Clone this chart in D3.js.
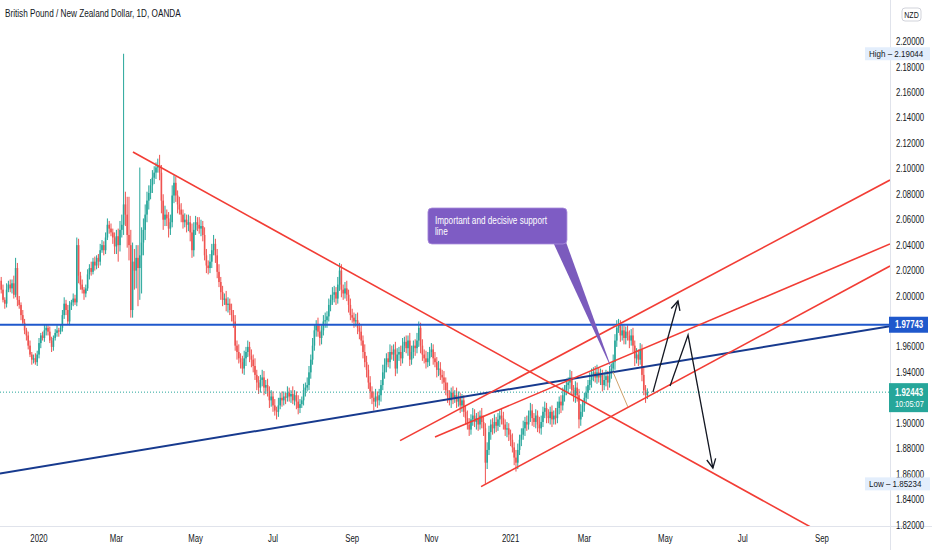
<!DOCTYPE html>
<html>
<head>
<meta charset="utf-8">
<script src="https://cdn.jsdelivr.net/npm/d3@7"></script>
<style>
  body { margin: 0; background: #fff; }
  svg { display: block; font-family: "Liberation Sans", Arial, sans-serif; }
</style>
</head>
<body>
<div id="content"></div>
<script>
// ---- data: daily closes per month (GBP/NZD, OANDA) ----
var firstDay = '2019-12-03';
var firstOpen = 2.012;
var closeDec19 = [2.005,1.997,1.994,2.005,2.009,2.006,2.010,2.001,2.022,1.997,1.993,1.985,1.979,1.973,1.969,1.961,1.954,1.950,1.951,1.948,1.954];
var closeJan20 = [1.963,1.969,1.967,1.973,1.975,1.972,1.965,1.960,1.967,1.971,1.973,1.972,1.975,1.985,1.994,1.989,1.980,1.993,1.995,1.998,1.995,2.040,2.016];
var closeFeb20 = [2.009,2.005,2.002,2.006,2.017,2.022,2.019,2.027,2.024,2.030,2.027,2.036,2.040,2.036,2.046,2.056,2.053,2.050,2.046,2.039];
var closeMar20 = [2.047,2.040,2.052,2.056,2.072,2.064,2.048,2.040,1.989,2.027,2.020,2.030,2.022,2.032,2.042,2.052,2.064,2.075,2.081,2.087,2.093,2.097];
var closeApr20 = [2.101,2.103,2.097,2.075,2.060,2.064,2.061,2.053,2.058,2.079,2.089,2.079,2.072,2.068,2.064,2.058,2.060,2.056,2.058,2.050,2.036,2.052];
var closeMay20 = [2.058,2.056,2.053,2.055,2.048,2.032,2.024,2.022,2.027,2.036,2.041,2.032,2.019,2.011,2.003,1.997,1.998,1.993,1.994,1.989,1.985];
var closeJun20 = [1.980,1.961,1.956,1.951,1.948,1.943,1.951,1.956,1.960,1.953,1.950,1.945,1.938,1.932,1.928,1.934,1.936,1.928,1.930,1.925,1.918,1.921];
var closeJul20 = [1.914,1.910,1.909,1.914,1.920,1.918,1.921,1.920,1.924,1.921,1.923,1.918,1.922,1.917,1.912,1.915,1.918,1.926,1.928,1.930,1.940,1.950,1.961];
var closeAug20 = [1.973,1.977,1.972,1.967,1.973,1.980,1.981,1.984,1.993,1.997,2.001,2.003,1.998,2.009,2.020,2.005,2.002,2.006,2.001,1.993,1.985];
var closeSep20 = [1.983,1.980,1.981,1.975,1.972,1.965,1.956,1.948,1.942,1.932,1.925,1.920,1.917,1.921,1.918,1.922,1.930,1.940,1.946,1.951,1.948,1.956];
var closeOct20 = [1.954,1.958,1.943,1.954,1.956,1.951,1.961,1.964,1.959,1.965,1.950,1.956,1.961,1.959,1.965,1.975,1.961,1.954,1.951,1.948,1.951,1.956];
var closeNov20 = [1.958,1.951,1.948,1.942,1.943,1.938,1.936,1.932,1.926,1.921,1.918,1.924,1.920,1.922,1.917,1.920,1.914,1.918,1.909,1.904,1.899];
var closeDec20 = [1.895,1.903,1.906,1.901,1.904,1.899,1.906,1.901,1.896,1.869,1.879,1.893,1.899,1.896,1.901,1.898,1.903,1.906,1.904,1.899,1.895,1.896,1.891];
var closeJan21 = [1.887,1.881,1.873,1.869,1.879,1.887,1.891,1.896,1.901,1.899,1.906,1.910,1.904,1.901,1.906,1.899,1.896,1.901,1.909,1.912,1.906];
var closeFeb21 = [1.904,1.909,1.903,1.906,1.904,1.912,1.917,1.914,1.922,1.926,1.930,1.932,1.936,1.926,1.922,1.928,1.922,1.903,1.909,1.914];
var closeMar21 = [1.920,1.924,1.930,1.934,1.938,1.940,1.936,1.940,1.936,1.938,1.930,1.934,1.937,1.932,1.940,1.943,1.948,1.965,1.975,1.977,1.969,1.973,1.967];
var closeApr21 = [1.972,1.969,1.965,1.969,1.961,1.951,1.954,1.950,1.958,1.938,1.926,1.922,1.92443];

// upper / lower wicks, in thousandths, same months
var upDec19 = [3,4,2,5,3,4,3,6,8,4,3,2,4,3,2,3,4,2,3,4,3];
var dnDec19 = [3,2,4,3,2,3,4,3,2,5,3,4,2,3,4,3,2,4,3,2,3];
var upJan20 = [4,2,3,5,3,2,4,3,2,3,4,2,3,4,5,3,4,3,2,4,3,6,5];
var dnJan20 = [3,4,2,3,4,3,2,4,3,2,3,4,2,3,3,4,2,3,4,3,2,3,6];
var upFeb20 = [3,4,2,3,4,3,5,3,4,2,3,5,4,3,4,5,3,4,3,4];
var dnFeb20 = [4,3,5,3,2,4,3,2,4,3,5,3,2,4,3,2,4,3,5,6];
var upMar20 = [5,6,7,8,118.44,10,14,30,12,15,10,10,10,69,12,9,8,7,6,5,6,5];
var dnMar20 = [6,13,5,6,8,9,10,12,6,6,15,14,30,25,30,10,8,6,7,5,6,5];
var upApr20 = [4,5,8,6,5,7,4,5,6,8,6,5,4,6,5,4,5,4,6,5,7,6];
var dnApr20 = [5,4,6,10,8,5,6,7,5,4,6,5,7,4,6,5,4,6,5,7,6,5];
var upMay20 = [5,4,6,5,4,6,5,4,6,5,7,4,5,6,4,5,4,6,5,4,5];
var dnMay20 = [4,5,4,6,5,4,6,5,4,5,4,6,5,4,6,5,4,5,6,4,5];
var upJun20 = [4,5,4,6,4,5,6,4,5,4,5,4,6,4,5,4,6,5,4,5,4,5];
var dnJun20 = [5,4,6,4,5,4,5,6,4,5,6,5,4,6,5,4,5,6,5,4,6,5];
var upJul20 = [4,5,3,6,4,5,4,3,5,4,3,6,4,3,5,4,3,5,4,6,5,4,6];
var dnJul20 = [5,4,6,4,3,5,4,5,3,4,5,3,4,6,5,4,3,4,5,3,4,5,4];
var upAug20 = [5,4,6,5,4,5,6,4,5,4,6,5,4,6,6,5,4,5,6,4,5];
var dnAug20 = [4,5,4,6,5,4,5,6,4,5,4,6,5,4,5,6,5,4,5,6,4];
var upSep20 = [5,4,5,6,4,5,4,6,5,4,5,4,5,6,4,5,4,6,5,4,5,6];
var dnSep20 = [4,5,4,5,6,4,5,4,6,5,6,5,7,4,6,4,5,4,5,6,4,5];
var upOct20 = [5,4,6,5,4,5,6,4,5,4,6,5,4,5,6,5,4,5,4,6,5,4];
var dnOct20 = [4,5,6,4,5,6,4,5,4,6,5,4,5,6,4,5,6,5,4,5,4,6];
var upNov20 = [5,4,5,4,6,5,4,5,4,6,5,4,5,4,6,5,4,5,4,5,6];
var dnNov20 = [4,5,4,6,5,4,5,6,4,5,4,6,5,4,5,4,6,5,4,5,4];
var upDec20 = [5,4,6,5,4,5,4,6,5,4,6,5,4,5,6,4,5,4,6,5,4,5,4];
var dnDec20 = [5,4,5,4,6,5,4,5,6,16.66,5,4,6,5,4,5,4,6,5,4,5,6,5];
var upJan21 = [4,5,4,6,5,4,5,6,4,5,4,6,5,4,5,4,6,5,4,5,4];
var dnJan21 = [5,4,6,7,5,4,5,4,6,5,4,5,6,4,5,6,4,5,4,5,6];
var upFeb21 = [5,4,5,4,6,5,4,5,6,4,5,4,6,5,4,5,4,5,6,4];
var dnFeb21 = [4,5,6,4,5,4,5,6,4,5,4,6,5,4,5,6,5,7,5,4];
var upMar21 = [4,5,4,6,5,4,5,6,4,5,4,6,5,4,5,4,6,5,6,5,4,5,4];
var dnMar21 = [5,4,5,4,6,5,4,5,4,6,5,4,5,6,4,5,4,6,5,4,5,4,5];
var upApr21 = [4,5,4,5,6,4,5,4,5,4,6,4,3];
var dnApr21 = [5,4,6,4,5,6,4,5,4,5,4,6,3];

// axis labels
var timeTickDates = ['2020-01-01','2020-03-01','2020-05-01','2020-07-01','2020-09-01','2020-11-01','2021-01-01','2021-03-01','2021-05-01','2021-07-01','2021-09-01'];
var timeTickLabels = ['2020','Mar','May','Jul','Sep','Nov','2021','Mar','May','Jul','Sep'];
var priceTicks = [1.82,1.84,1.86,1.88,1.90,1.92,1.94,1.96,1.98,2.00,2.02,2.04,2.06,2.08,2.10,2.12,2.14,2.16,2.18,2.20];
var highValue = 2.19044, lowValue = 1.85234, levelValue = 1.97743, lastValue = 1.92443;
var countdown = '10:05:07';
var currency = 'NZD';
var title = 'British Pound / New Zealand Dollar, 1D, OANDA';
var calloutText = ['Important and decisive support', 'line'];

// drawings: [bar index, price]
var trendDown = [[73.2, 2.1132], [481.0, 1.7939]];
var navyLine = [[-0.7, 1.8605], [493.8, 1.9763]];
var channelTop = [[221.6, 1.8863], [493.8, 2.0912]];
var channelMid = [[241.0, 1.8892], [493.8, 2.0409]];
var channelLow = [[266.6, 1.8502], [493.8, 2.0236]];
var tanLine = [[339.9, 1.9403], [348.2, 1.9127]];
var arrowUp = [[362.1, 1.9245], [376.0, 1.9961]];
var arrowZig = [[371.6, 1.9292], [381.6, 1.9693], [395.4, 1.8648]];
var calloutAnchor = [237.1, 2.0692];
var calloutTip = [339.9, 1.9403];

// ---- build ----
var closes = [].concat(closeDec19, closeJan20, closeFeb20, closeMar20, closeApr20, closeMay20, closeJun20,
  closeJul20, closeAug20, closeSep20, closeOct20, closeNov20, closeDec20, closeJan21, closeFeb21, closeMar21, closeApr21);
var wickUp = [].concat(upDec19, upJan20, upFeb20, upMar20, upApr20, upMay20, upJun20,
  upJul20, upAug20, upSep20, upOct20, upNov20, upDec20, upJan21, upFeb21, upMar21, upApr21);
var wickDown = [].concat(dnDec19, dnJan20, dnFeb20, dnMar20, dnApr20, dnMay20, dnJun20,
  dnJul20, dnAug20, dnSep20, dnOct20, dnNov20, dnDec20, dnJan21, dnFeb21, dnMar21, dnApr21);

var bars = closes.map(function(c, k){
  var o = k ? closes[k-1] : firstOpen;
  return { k: k, o: o, c: c,
    h: Math.max(o, c) + wickUp[k] / 1000,
    l: Math.min(o, c) - wickDown[k] / 1000 };
});

// trading days (weekdays), also past the last bar for future labels
var parse = d3.timeParse('%Y-%m-%d');
var days = [];
for (var d = parse(firstDay); days.length < 520; d = d3.timeDay.offset(d, 1)) {
  if (d.getDay() !== 0 && d.getDay() !== 6) days.push(d);
}

var W = 932, H = 550, plotW = 890, plotH = 526;
var upColor = '#26a69a', downColor = '#ef5350', red = '#f23d35';
var levelColor = '#1f58cc', textColor = '#131722';

var xs = d3.scaleLinear().domain([-0.67, 493.8]).range([0, plotW]);
var ys = d3.scaleLinear().domain([1.82, 2.20]).range([525, 41.6]);

var svg = d3.select('#content').append('svg')
  .attr('width', W).attr('height', H);

var defs = svg.append('defs');
defs.append('clipPath').attr('id', 'plot')
  .append('rect').attr('width', plotW).attr('height', plotH);
defs.append('marker')
  .attr('id', 'arrow')
  .attr('markerUnits', 'userSpaceOnUse')
  .attr('markerWidth', 14).attr('markerHeight', 14)
  .attr('viewBox', '-11 -7 14 14')
  .attr('refX', 0).attr('refY', 0)
  .attr('orient', 'auto')
  .append('path')
  .attr('d', 'M-9,-4.5 L0,0 L-9,4.5')
  .attr('fill', 'none').attr('stroke', textColor).attr('stroke-width', 1.3);

var plot = svg.append('g').attr('clip-path', 'url(#plot)');

// candles
var cg = plot.append('g');
cg.selectAll('line.wick').data(bars).enter().append('line')
  .attr('class', 'wick')
  .attr('x1', function(b){ return xs(b.k); })
  .attr('x2', function(b){ return xs(b.k); })
  .attr('y1', function(b){ return ys(b.h); })
  .attr('y2', function(b){ return ys(b.l); })
  .attr('stroke', function(b){ return b.c >= b.o ? upColor : downColor; })
  .attr('stroke-width', 1);
cg.selectAll('rect.body').data(bars).enter().append('rect')
  .attr('class', 'body')
  .attr('x', function(b){ return xs(b.k) - 0.8; })
  .attr('width', 1.6)
  .attr('y', function(b){ return ys(Math.max(b.o, b.c)); })
  .attr('height', function(b){ return Math.max(1, Math.abs(ys(b.o) - ys(b.c))); })
  .attr('fill', function(b){ return b.c >= b.o ? upColor : downColor; });

// last price dotted line
plot.append('line')
  .attr('x1', 0).attr('x2', plotW)
  .attr('y1', ys(lastValue)).attr('y2', ys(lastValue))
  .attr('stroke', upColor).attr('stroke-width', 1)
  .attr('stroke-dasharray', '1,2');

var line = d3.line()
  .x(function(p){ return xs(p[0]); })
  .y(function(p){ return ys(p[1]); });

function drawLine(pts, color, w){
  return plot.append('path')
    .attr('d', line(pts))
    .attr('fill', 'none')
    .attr('stroke', color)
    .attr('stroke-width', w);
}

drawLine(navyLine, '#173a8e', 2);
plot.append('line')
  .attr('x1', 0).attr('x2', plotW)
  .attr('y1', ys(levelValue)).attr('y2', ys(levelValue))
  .attr('stroke', levelColor).attr('stroke-width', 2);
drawLine(trendDown, red, 1.6);
drawLine(channelTop, red, 1.6);
drawLine(channelMid, red, 1.6);
drawLine(channelLow, red, 1.6);
drawLine(tanLine, '#cfa36c', 1);

// callout
var bx = xs(calloutAnchor[0]), by = ys(calloutAnchor[1]);
var bw = 139, bh = 36;
plot.append('path')
  .attr('d', 'M' + (bx + bw - 14) + ',' + (by + bh - 2) + 'L' + (bx + bw - 1) + ',' + (by + bh - 2) +
    'L' + xs(calloutTip[0]) + ',' + ys(calloutTip[1]) + 'Z')
  .attr('fill', '#7b5bbd');
plot.append('rect')
  .attr('x', bx).attr('y', by).attr('width', bw).attr('height', bh)
  .attr('rx', 4)
  .attr('fill', '#7e5cc4').attr('stroke', '#a98bdc').attr('stroke-width', 0.8);
plot.append('g').selectAll('text').data(calloutText).enter().append('text')
  .attr('x', bx + 7)
  .attr('y', function(t, i){ return by + 16 + i * 11; })
  .attr('fill', '#fff')
  .attr('font-size', 10.5)
  .text(function(t){ return t; });

// arrows
drawLine(arrowUp, textColor, 1.3).attr('marker-end', 'url(#arrow)');
drawLine(arrowZig, textColor, 1.3).attr('marker-end', 'url(#arrow)');

// ---- axes ----
svg.append('line')
  .attr('x1', 0).attr('x2', W).attr('y1', plotH + 0.5).attr('y2', plotH + 0.5)
  .attr('stroke', '#e0e3eb');
svg.append('line')
  .attr('x1', plotW + 0.5).attr('x2', plotW + 0.5).attr('y1', 0).attr('y2', H)
  .attr('stroke', '#e0e3eb');

svg.append('g').selectAll('text').data(timeTickDates).enter().append('text')
  .attr('x', function(s){ return xs(d3.bisectLeft(days, parse(s))); })
  .attr('y', 541.5)
  .attr('text-anchor', 'middle')
  .attr('font-size', 10)
  .attr('fill', textColor)
  .text(function(s, i){ return timeTickLabels[i]; });

// price ticks, hidden where a price label sits
var labelYs = [ys(levelValue), ys(lastValue) + 5];
svg.append('g').selectAll('text')
  .data(priceTicks.filter(function(v){
    return labelYs.every(function(y){ return Math.abs(ys(v) - y) > 12; });
  }))
  .enter().append('text')
  .attr('x', 896)
  .attr('y', function(v){ return ys(v) + 3.5; })
  .attr('font-size', 10)
  .attr('fill', textColor)
  .text(function(v){ return v.toFixed(5); });

// currency box
svg.append('rect')
  .attr('x', 902).attr('y', 8).attr('width', 19).attr('height', 13).attr('rx', 3)
  .attr('fill', '#fff').attr('stroke', '#c5c8d0').attr('stroke-width', 0.8);
svg.append('text')
  .attr('x', 911.5).attr('y', 17.5).attr('text-anchor', 'middle')
  .attr('font-size', 9).attr('fill', textColor)
  .text(currency);

// high / low labels
function infoLabel(name, v){
  var y = ys(v);
  svg.append('rect')
    .attr('x', 865).attr('y', y - 6.5).attr('width', 65).attr('height', 13)
    .attr('fill', '#e3eefc');
  svg.append('text')
    .attr('class', 'info')
    .attr('x', 869).attr('y', y + 3.5)
    .attr('font-size', 9.2).attr('fill', textColor)
    .text(name + ' \u2013 ' + v.toFixed(5));
}
infoLabel('High', highValue);
infoLabel('Low', lowValue);

// level label
svg.append('rect')
  .attr('x', 889).attr('y', ys(levelValue) - 8).attr('width', 39).attr('height', 16)
  .attr('fill', levelColor);
svg.append('text')
  .attr('x', 895).attr('y', ys(levelValue) + 3.5)
  .attr('font-size', 10).attr('font-weight', 'bold').attr('fill', '#fff')
  .text(levelValue.toFixed(5));

// last price label
var ly = ys(lastValue);
svg.append('rect')
  .attr('x', 889).attr('y', ly - 9).attr('width', 39).attr('height', 29)
  .attr('fill', upColor);
svg.append('text')
  .attr('x', 895).attr('y', ly + 3.5)
  .attr('font-size', 10).attr('font-weight', 'bold').attr('fill', '#fff')
  .text(lastValue.toFixed(5));
svg.append('text')
  .attr('x', 895).attr('y', ly + 15)
  .attr('font-size', 9.5).attr('fill', '#fff')
  .text(countdown);

// title
svg.append('text')
  .attr('x', 5).attr('y', 17)
  .attr('font-size', 10.5).attr('fill', textColor)
  .text(title);

// the screenshot font is a narrow face: squeeze every text horizontally
svg.selectAll('text').each(function(){
  var len = this.getComputedTextLength();
  var k = this.getAttribute('class') === 'info' ? 0.87 : 0.78;
  d3.select(this).attr('textLength', len * k).attr('lengthAdjust', 'spacingAndGlyphs');
});
</script>
</body>
</html>
